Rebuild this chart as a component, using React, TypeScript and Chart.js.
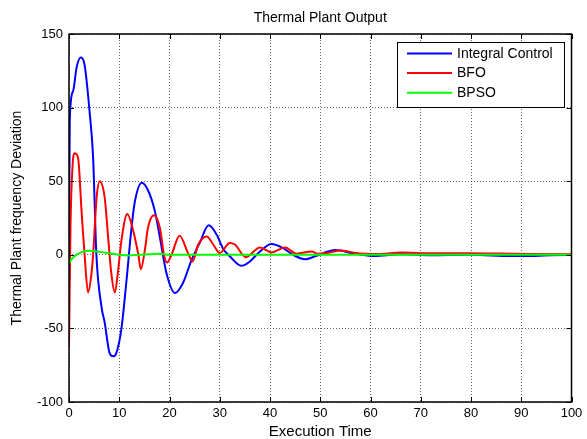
import React, { useEffect, useRef } from "react";
import { Chart, registerables } from "chart.js";

Chart.register(...registerables);

const titleText = "Thermal Plant Output";
const xTitle = "Execution Time";
const yTitle = "Thermal Plant frequency Deviation";
const seriesNames = ["Integral Control", "BFO", "BPSO"];
const seriesColors = ["#0000ff", "#ff0000", "#00ff00"];
const xTickValues = [0, 10, 20, 30, 40, 50, 60, 70, 80, 90, 100];
const yTickValues = [-100, -50, 0, 50, 100, 150];

const integralTime = [0, 0.15, 0.8, 1.5, 2.3, 3.1, 4.1, 4.8, 5.45, 6.5, 7.1, 8.1, 8.8, 9.4, 10.4, 11.4, 12.4, 13.1, 14.5, 15.7, 17.1, 18.1, 19.4, 21.1, 22.7, 24.4, 26, 27.8, 29.4, 30.6, 32, 34.3, 36, 38, 40.3, 42.6, 44.6, 47, 49, 53, 56.6, 60.6, 66, 72, 80, 88, 92, 96, 100];
const integralValue = [0, 92, 111, 127, 134, 129, 97, 66, 0, -36, -46, -67, -69, -67, -51, -19, 17, 36, 49, 44, 29.5, 11.5, -12.5, -26, -19, -3.4, 8, 20, 13.6, 4.5, -1, -7.5, -4.5, 2.3, 7.3, 4.5, 0, -3, -1, 3.2, 1, -0.8, 0.3, -0.3, 0, -0.8, -0.8, -0.3, 0];

const bfoTime = [0, 0.3, 0.7, 1.1, 1.8, 2.5, 3.1, 3.8, 4.5, 4.8, 5.5, 6.1, 7.1, 7.8, 8.4, 9.1, 9.8, 10.4, 11.6, 12.8, 13.8, 14.3, 15.1, 15.7, 16.9, 18.1, 18.9, 19.5, 20.4, 22, 23.7, 24.6, 25.7, 27.4, 28.7, 30, 32, 33, 35.2, 38, 40.3, 43, 45.3, 48.3, 49.5, 51, 54, 57, 62, 66, 72, 80, 86, 92, 100];
const bfoValue = [-62, 20, 60, 69, 66, 29.5, 0, -25.6, -12, 0, 39, 50, 39, 11.5, -12, -25.6, -10, 9, 27.7, 16, 0, -9.8, 3.4, 18, 26.8, 18, 0, -5.2, 0, 12.9, 1, -4.5, 6.8, 12.5, 7, 1.2, 8, 7, -1.6, 5, 1.6, 5, 0.7, 2.3, 0.7, 1, 3, 1.2, 0.5, 1.5, 1, 1, 0.8, 0.6, 0.3];

const bpsoTime = [0, 0.5, 1.5, 2.5, 4.1, 5.5, 7.3, 9.9, 11.9, 14, 17.9, 20, 30, 50, 70, 100];
const bpsoValue = [-6, -3, 0, 1.8, 2.7, 2.3, 1.4, 0, -0.5, 0, 0.7, 0, 0, 0, 0, 0];

const toPoints = (t: number[], v: number[]) => t.map((x, i) => ({ x, y: v[i] }));

const FONT = "'Liberation Sans', Arial, Helvetica, sans-serif";

const matlabPlugin = {
  id: "matlabBox",
  afterDraw(chart: any) {
    const { ctx, chartArea: a, scales } = chart;
    ctx.save();
    ctx.strokeStyle = "#000";
    ctx.lineWidth = 1;
    ctx.beginPath();
    for (const v of xTickValues) {
      const px = Math.round(scales.x.getPixelForValue(v)) + 0.5;
      ctx.moveTo(px, a.bottom);
      ctx.lineTo(px, a.bottom - 5);
      ctx.moveTo(px, a.top);
      ctx.lineTo(px, a.top + 5);
    }
    for (const v of yTickValues) {
      const py = Math.round(scales.y.getPixelForValue(v)) + 0.5;
      ctx.moveTo(a.left, py);
      ctx.lineTo(a.left + 5, py);
      ctx.moveTo(a.right, py);
      ctx.lineTo(a.right - 5, py);
    }
    ctx.stroke();
    ctx.lineWidth = 1.5;
    ctx.strokeRect(a.left, a.top, a.right - a.left, a.bottom - a.top);

    // legend
    const w = 167;
    const h = 65;
    const lx = Math.round(a.right - 7.5 - w);
    const ly = Math.round(a.top + 8);
    ctx.fillStyle = "#fff";
    ctx.fillRect(lx, ly, w, h);
    ctx.lineWidth = 1;
    ctx.strokeStyle = "#000";
    ctx.strokeRect(lx + 0.5, ly + 0.5, w, h);
    ctx.font = `14px ${FONT}`;
    ctx.textBaseline = "middle";
    ctx.textAlign = "left";
    seriesNames.forEach((name, i) => {
      const y = ly + 11.5 + i * 19.6;
      ctx.strokeStyle = seriesColors[i];
      ctx.lineWidth = 2;
      ctx.beginPath();
      ctx.moveTo(lx + 10, y);
      ctx.lineTo(lx + 55, y);
      ctx.stroke();
      ctx.fillStyle = "#000";
      ctx.fillText(name, lx + 60, y + 0.5);
    });
    ctx.restore();
  },
};

export default function App() {
  const ref = useRef<HTMLCanvasElement | null>(null);
  useEffect(() => {
    if (!ref.current) return;
    Chart.defaults.font.family = FONT;
    Chart.defaults.color = "#000";
    const series = [
      toPoints(integralTime, integralValue),
      toPoints(bfoTime, bfoValue),
      toPoints(bpsoTime, bpsoValue),
    ];
    const chart = new Chart(ref.current, {
      type: "line",
      data: {
        datasets: series.map((data, i) => ({
          label: seriesNames[i],
          data,
          borderColor: seriesColors[i],
          backgroundColor: seriesColors[i],
          borderWidth: 2,
          pointRadius: 0,
          fill: false,
          cubicInterpolationMode: "monotone" as const,
          order: 2 - i,
        })),
      },
      options: {
        animation: false,
        responsive: false,
        events: [],
        layout: { padding: { left: 0, right: 15.5, top: 0, bottom: 0 } },
        plugins: {
          legend: { display: false },
          tooltip: { enabled: false },
          title: {
            display: true,
            text: titleText,
            fullSize: false,
            color: "#000",
            font: { size: 14, weight: "normal", family: FONT },
            padding: { top: 9.4, bottom: 7.8 },
          },
        },
        scales: {
          x: {
            type: "linear",
            min: 0,
            max: 100,
            afterBuildTicks: (scale: any) => {
              scale.ticks = xTickValues.map((v) => ({ value: v }));
            },
            afterFit: (scale: any) => {
              scale.height = 37;
            },
            ticks: {
              color: "#000",
              font: { size: 13, family: FONT },
              padding: 4,
              maxRotation: 0,
              autoSkip: false,
              callback: (v: any) => String(v),
            },
            grid: { color: "#666", lineWidth: 1, drawTicks: false },
            border: { display: false, dash: [1, 2] },
            title: {
              display: true,
              text: xTitle,
              color: "#000",
              font: { size: 15, family: FONT, lineHeight: 1 },
              padding: { top: 0, bottom: 0 },
            },
          },
          y: {
            type: "linear",
            min: -100,
            max: 150,
            afterBuildTicks: (scale: any) => {
              scale.ticks = yTickValues.map((v) => ({ value: v }));
            },
            afterFit: (scale: any) => {
              scale.width = 69;
            },
            ticks: {
              color: "#000",
              font: { size: 13, family: FONT },
              padding: 6,
              autoSkip: false,
              callback: (v: any) => String(v),
            },
            grid: { color: "#666", lineWidth: 1, drawTicks: false },
            border: { display: false, dash: [1, 2] },
            title: {
              display: true,
              text: yTitle,
              color: "#000",
              font: { size: 14, family: FONT, lineHeight: 1.2 },
              padding: { top: 8.6, bottom: 0 },
            },
          },
        },
      },
      plugins: [matlabPlugin],
    });
    return () => chart.destroy();
  }, []);
  return (
    <div style={{ position: "absolute", left: 0, top: 0, width: 587, height: 439, background: "#fff" }}>
      <canvas ref={ref} width={587} height={439} style={{ display: "block" }} />
    </div>
  );
}
